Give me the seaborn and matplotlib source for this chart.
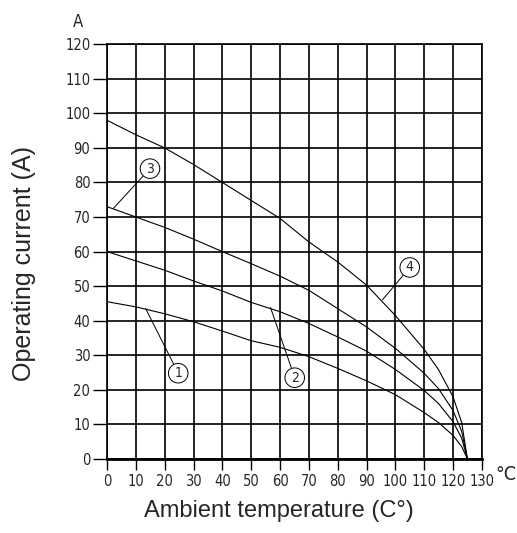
import numpy as np
import pandas as pd
import matplotlib
matplotlib.use('Agg')
import matplotlib.pyplot as plt
import seaborn as sns

# derating curves
temp = [0, 10, 20, 30, 40, 50, 60, 70, 80, 90, 100, 110, 115, 120, 123, 125]
curve_1 = [45.5, 44, 42, 39.7, 37, 34.2, 32.3, 29.6, 26.2, 22.6, 18.6, 13.4, 10.5, 6.8, 3.6, 0]
curve_2 = [60, 57.3, 54.6, 51.5, 48.6, 45.3, 42.6, 39.2, 35.3, 31.2, 25.9, 19.8, 16, 10.8, 6, 0]
curve_3 = [73, 70, 67, 63.6, 60, 56.5, 52.9, 48.8, 43.5, 38.2, 32, 24.8, 20.3, 14, 8, 0]
curve_4 = [98, 93.8, 90, 85.2, 80, 74.8, 69.6, 62.8, 57, 50.3, 41.5, 31.7, 25.8, 18, 10.5, 0]
curve_names = ['1', '2', '3', '4']

# label circles: (label x, label y, curve x, curve y)
callouts = {
    '1': (24.7, 24.8, 13.4, 43.5),
    '2': (65.1, 23.5, 56.7, 43.8),
    '3': (14.9, 84.0, 2.2, 72.5),
    '4': (105.0, 55.4, 95.5, 46.0),
}

x_ticks = list(range(0, 131, 10))
y_ticks = list(range(0, 121, 10))

df = pd.DataFrame({
    'temp': temp * 4,
    'current': curve_1 + curve_2 + curve_3 + curve_4,
    'curve': [n for n in curve_names for _ in temp],
})

sns.set_style('white')
narrow = dict(family=['Liberation Sans Narrow', 'DejaVu Sans'], fontstretch='condensed')
arial = dict(family=['Liberation Sans', 'DejaVu Sans'])

fig = plt.figure(figsize=(5.17, 5.33), dpi=100)
ax = fig.add_axes([0.207, 0.139, 0.725, 0.778])

sns.lineplot(
    data=df, x='temp', y='current', hue='curve',
    palette=['black'] * 4, linewidth=0.8, legend=False, ax=ax
)

for name, (lx, ly, cx, cy) in callouts.items():
    ax.annotate(
        name, xy=(cx, cy), xytext=(lx, ly),
        ha='center', va='center', fontsize=10, **narrow,
        bbox=dict(boxstyle='circle,pad=0.2', fc='white', ec='black', lw=0.7),
        arrowprops=dict(arrowstyle='-', color='black', lw=0.7, shrinkA=0, shrinkB=0),
    )

ax.set_xlim(0, 130)
ax.set_ylim(0, 120)
ax.set_xticks(x_ticks)
ax.set_yticks(y_ticks)
ax.set_xticklabels([str(t) for t in x_ticks], fontsize=10.5, **narrow)
ax.set_yticklabels([str(t) for t in y_ticks], fontsize=10.5, **narrow)
ax.grid(True, color='black', linewidth=1.2)
ax.tick_params(axis='x', direction='out', length=8, width=1, color='black',
               bottom=True, pad=3)
ax.tick_params(axis='y', direction='out', length=10, width=1, color='black',
               left=True, pad=2)
for side, sp in ax.spines.items():
    sp.set_color('black')
    sp.set_linewidth(1.2)
ax.spines['bottom'].set_linewidth(2)

ax.set_xlabel('Ambient temperature (C°)', fontsize=17, **arial)
ax.set_ylabel('Operating current (A)', fontsize=18, **arial)
ax.xaxis.set_label_coords(0.459, -0.098)
ax.yaxis.set_label_coords(-0.189, 0.472)

ax.text(-0.077, 1.053, 'A', transform=ax.transAxes, ha='center', va='center',
        fontsize=12, **narrow)
ax.text(1.035, -0.038, '°C', transform=ax.transAxes, ha='left', va='center',
        fontsize=14, **narrow)

fig.savefig('out.png', dpi=100)
